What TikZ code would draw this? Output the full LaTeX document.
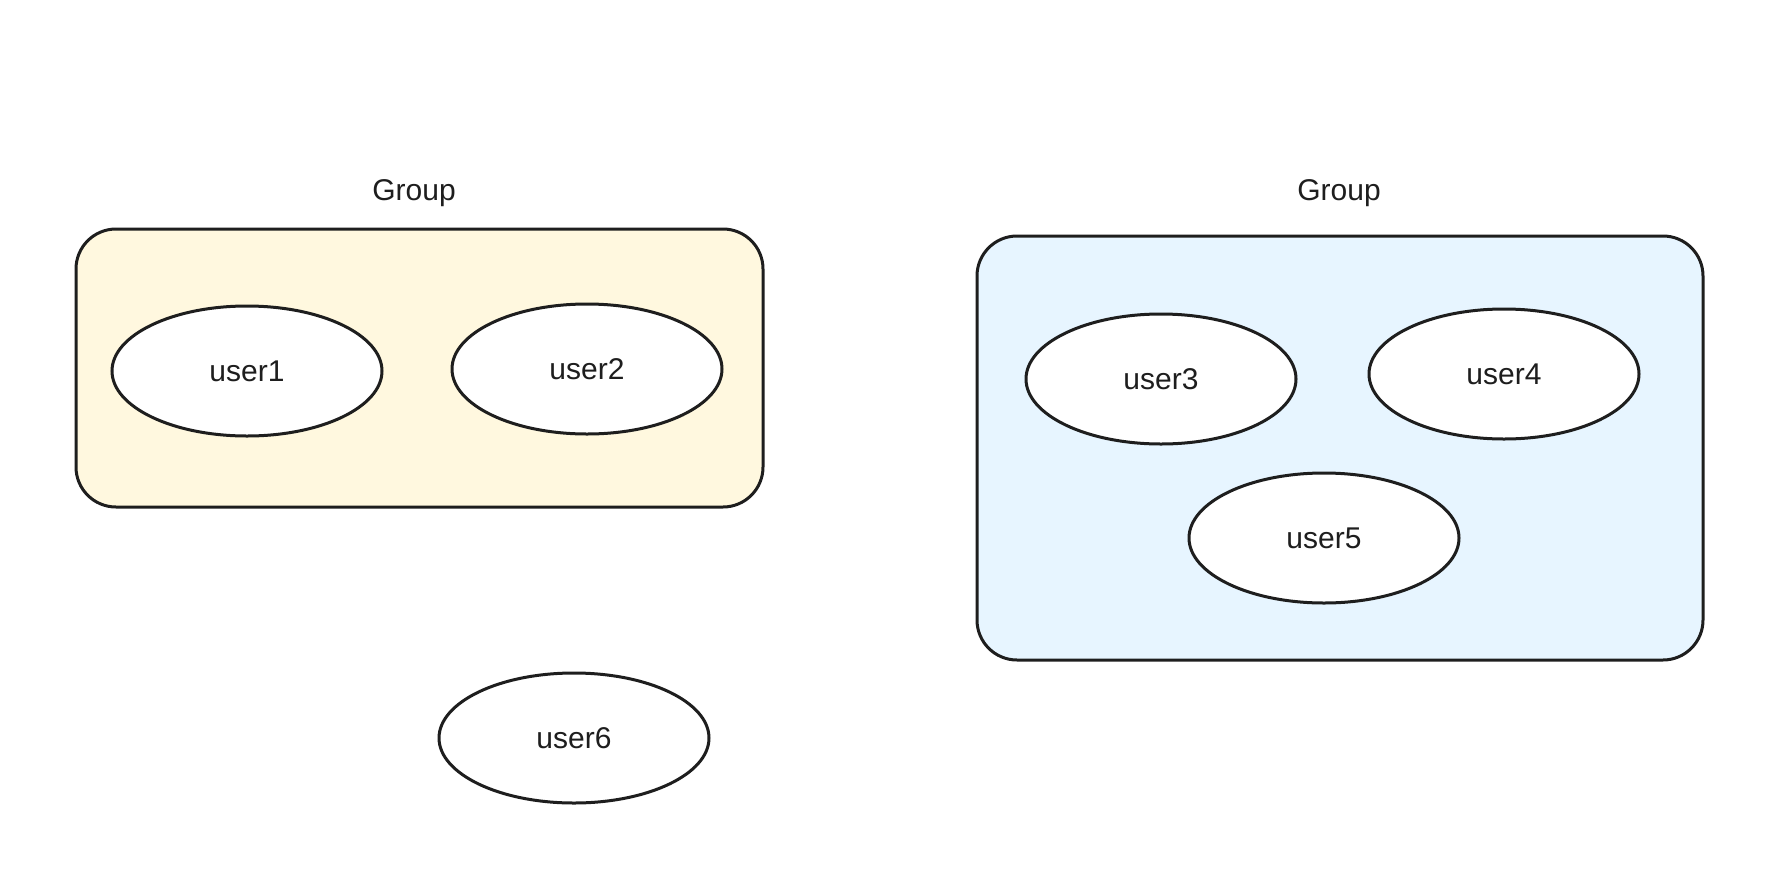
\documentclass[tikz,border=0pt]{standalone}
\usepackage{fontspec}
\setmainfont{Liberation Sans}
\usetikzlibrary{shapes.geometric}
\definecolor{inkline}{HTML}{1E1E1E}
\definecolor{groupyellow}{HTML}{FFF8DF}
\definecolor{groupblue}{HTML}{E7F5FF}
\begin{document}
\begin{tikzpicture}[
        x=0.5pt, y=-0.5pt,
        font=\fontsize{15}{18}\selectfont,
        text=inkline,
        groupbox/.style={draw=inkline, line width=1.5pt, rounded corners=20pt, inner sep=0pt},
        grouptitle/.style={align=center, inner sep=1pt},
        user/.style={draw=inkline, line width=1.5pt, ellipse, fill=white, minimum width=135pt, minimum height=65pt, inner sep=0pt}
      ]
      \useasboundingbox[fill=white] (0,0) rectangle (1778,884);

      \node[groupbox, fill=groupyellow, minimum width=343.5pt, minimum height=139pt] (grp-left) at (419.5,368) {};
      \node[grouptitle] (title-left) at (414,193) {Group};

      \node[groupbox, fill=groupblue, minimum width=363pt, minimum height=212pt] (grp-right) at (1340,448) {};
      \node[grouptitle] (title-right) at (1339,193) {Group};

      \node[user] (user1) at (247,371) {user1};
      \node[user] (user2) at (587,369) {user2};

      \node[user] (user3) at (1161,379) {user3};
      \node[user] (user4) at (1504,374) {user4};
      \node[user] (user5) at (1324,538) {user5};

      \node[user] (user6) at (574,738) {user6};
    \end{tikzpicture}
\end{document}
